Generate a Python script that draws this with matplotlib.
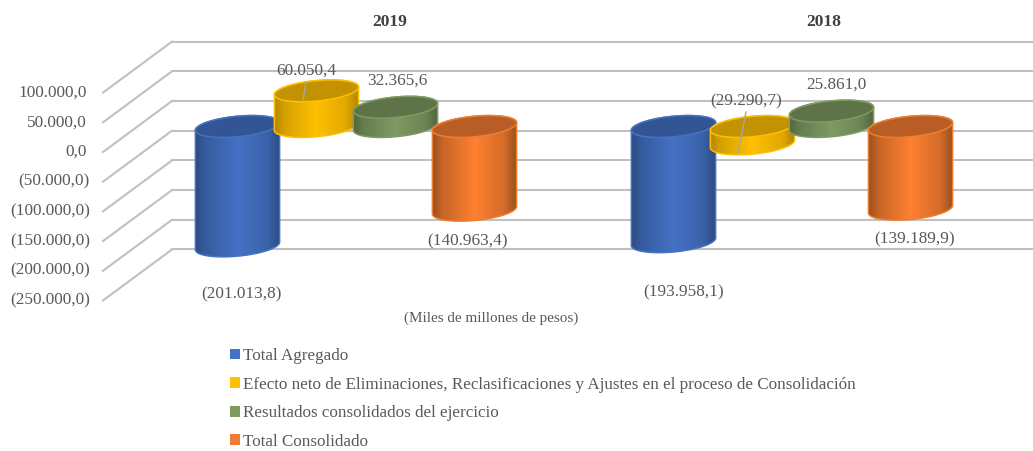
import numpy as np
import matplotlib
matplotlib.use("Agg")
import matplotlib.pyplot as plt
from matplotlib.patches import Polygon, Patch
from matplotlib.transforms import Affine2D
from matplotlib.colors import to_rgb

categories = ['2019', '2018']
series_names = ['Total Agregado',
                'Efecto neto de Eliminaciones, Reclasificaciones y Ajustes en el proceso de Consolidación',
                'Resultados consolidados del ejercicio',
                'Total Consolidado']
total_agregado = [-201013.8, -193958.1]
efecto_neto = [60050.4, -29290.7]
resultados = [32365.6, 25861.0]
total_consolidado = [-140963.4, -139189.9]
tick_values = [100000, 50000, 0, -50000, -100000, -150000, -200000, -250000]
tick_labels = ['100.000,0', '50.000,0', '0,0', '(50.000,0)', '(100.000,0)',
               '(150.000,0)', '(200.000,0)', '(250.000,0)']

base_colors = ['#4472c4', '#ffc000', '#7f9a63', '#ff8030']
edge_colors = ['#2c4a80', '#b38600', '#51653f', '#96501f']
top_colors = ['#335593', '#c29200', '#5f7349', '#b85d25']
line_colors = ['#4472c4', '#ffc000', '#7f9a63', '#ed7d31']
legend_colors = ['#4472c4', '#ffc000', '#7d9a60', '#ed7d31']

W, H = 1033, 451
PX_PER_CAT = 436.0
PX_PER_50K = 29.7
CAT0_X = 356.0
ZERO_Y = 126.5
px_x = 1.0 / PX_PER_CAT
px_y = 50000.0 / PX_PER_50K
BAR_STEP = 79.0 * px_x
WALL_X = (137.5 - CAT0_X) * px_x

GREY = '#595959'
plt.rcParams['font.family'] = ['Liberation Serif', 'DejaVu Serif']


def fmt(v):
    s = f"{abs(v):,.1f}".replace(',', 'X').replace('.', ',').replace('X', '.')
    return f"({s})" if v < 0 else s


def to_x(px):
    return (px - CAT0_X) * px_x


def to_y(py):
    return (ZERO_Y - py) * px_y


# tilted ellipse, in px offsets with y going up
A, B, TILT = 42.3, 10.2, np.radians(5.5)


def arc(t0, t1, n=60):
    t = np.linspace(t0, t1, n)
    ex = A * np.cos(t) * np.cos(TILT) - B * np.sin(t) * np.sin(TILT)
    ey = A * np.cos(t) * np.sin(TILT) + B * np.sin(t) * np.cos(TILT)
    return ex, ey


def cylinder(ax, x, v, i, z):
    hi, lo = max(v, 0), min(v, 0)
    t0 = np.arctan2(-B * np.sin(TILT), A * np.cos(TILT))
    ux, uy = arc(t0, t0 + np.pi)
    dx, dy = arc(t0 + np.pi, t0 + 2 * np.pi)
    side = np.vstack([
        np.column_stack([x + ux * px_x, hi + uy * px_y]),
        np.column_stack([x + dx * px_x, lo + dy * px_y]),
    ])
    patch = Polygon(side, closed=True, fc='none', ec=line_colors[i], lw=1.1, zorder=z + 0.2)
    ax.add_patch(patch)

    stops = [0.0, 0.12, 0.5, 0.85, 1.0]
    mix = [0.0, 0.45, 1.0, 0.6, 0.0]
    u = np.linspace(0, 1, 128)
    m = np.interp(u, stops, mix)[:, None]
    ramp = (1 - m) * np.array(to_rgb(edge_colors[i])) + m * np.array(to_rgb(base_colors[i]))
    half = 42.5 * px_x
    im = ax.imshow(ramp[None, :, :], extent=[x - half, x + half, lo - 20 * px_y, hi + 20 * px_y],
                   aspect='auto', interpolation='bilinear', zorder=z)
    im.set_clip_path(patch)

    tx, ty = arc(0, 2 * np.pi, 120)
    top = Polygon(np.column_stack([x + tx * px_x, hi + ty * px_y]), closed=True,
                  fc=top_colors[i], ec=line_colors[i], lw=1.1, zorder=z + 0.4)
    ax.add_patch(top)


fig = plt.figure(figsize=(W / 100, H / 100), dpi=100)
ax = fig.add_axes([0, 0, 1, 1])
ax.axis('off')

# walls: back lines and the diagonals to the front
back = ax.transData + Affine2D().translate(34.5, 25.5)
for v, lab in zip(tick_values, tick_labels):
    ax.plot([WALL_X, to_x(W + 60)], [v, v], color='#c0c0c0', lw=1.5, transform=back, zorder=1)
    y_back = v + 25.5 * px_y
    y_front = v - 25.5 * px_y
    ax.plot([WALL_X + 34.5 * px_x, WALL_X - 34.5 * px_x], [y_back, y_front],
            color='#c0c0c0', lw=1.5, zorder=1)
    right = 90 if lab.startswith('(') else 87
    ax.text(to_x(right), y_front, lab, ha='right', va='center', fontsize=12.4, color=GREY)

all_series = [total_agregado, efecto_neto, resultados, total_consolidado]
z = 3
for c in range(len(categories)):
    for i, vals in enumerate(all_series):
        cylinder(ax, c + (i - 1.5) * BAR_STEP, vals[c], i, z)
        z += 1

# data labels, placed by hand like in the source
label_pos = [[(241, 294), (306, 71), (397, 81), (468, 241)],
             [(684, 292), (746, 101), (836, 85), (915, 239)]]
for c in range(len(categories)):
    for i, vals in enumerate(all_series):
        px, py = label_pos[c][i]
        ax.text(to_x(px), to_y(py), fmt(vals[c]), ha='center', va='center',
                fontsize=12.4, color=GREY, zorder=50)

# leader lines of the two yellow labels
ax.plot([to_x(306), to_x(303)], [to_y(82), to_y(101)], color='#a6a6a6', lw=1, zorder=49)
ax.plot([to_x(746), to_x(738)], [to_y(112), to_y(153)], color='#a6a6a6', lw=1, zorder=49)

title_x = [390, 824]
for c, name in enumerate(categories):
    ax.text(to_x(title_x[c]), to_y(22), name, ha='center', va='center',
            fontsize=12.6, fontweight='bold', color='#404040')

ax.text(to_x(491), to_y(318), '(Miles de millones de pesos)', ha='center', va='center',
        fontsize=10.9, color=GREY)

handles = [Patch(fc=c, ec='none') for c in legend_colors]
leg = ax.legend(handles, series_names, loc='upper left', bbox_to_anchor=(230 / W, 1 - 348 / H),
                frameon=False, fontsize=12.25, labelcolor=GREY, handlelength=0.6, handleheight=0.6,
                handletextpad=0.15, labelspacing=0.74, borderpad=0, borderaxespad=0)

ax.set_xlim(to_x(0), to_x(W))
ax.set_ylim(to_y(H), to_y(0))

fig.savefig('out.png', dpi=100)
plt.close(fig)
